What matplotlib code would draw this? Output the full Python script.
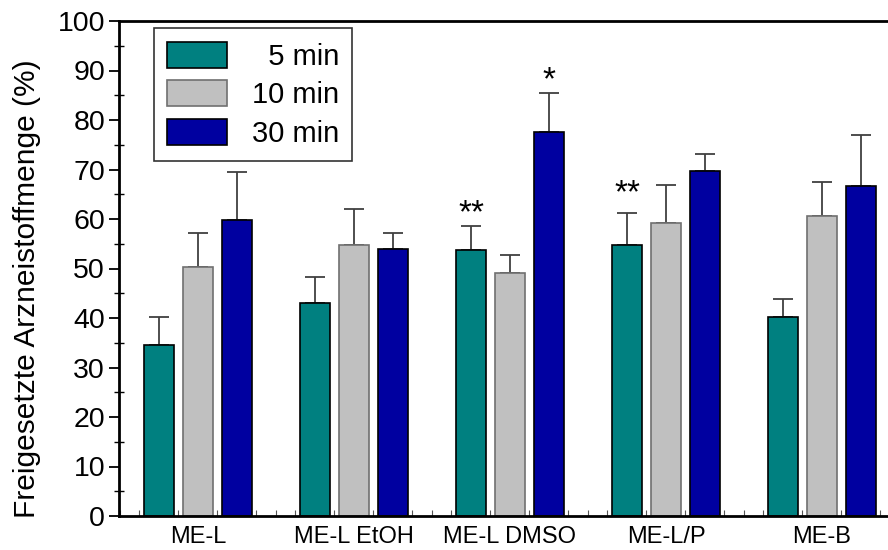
import numpy as np
import matplotlib
matplotlib.use('Agg')
import matplotlib.pyplot as plt
from matplotlib.ticker import MultipleLocator

plt.rcParams['font.family'] = ['Liberation Sans', 'DejaVu Sans']

# Daten
gruppen = ["ME-L", "ME-L EtOH", "ME-L DMSO", "ME-L/P", "ME-B"]
zeiten = ["  5 min", "10 min", "30 min"]
werte_5 = [34.5, 43.1, 53.7, 54.7, 40.3]
werte_10 = [50.3, 54.8, 49.1, 59.1, 60.7]
werte_30 = [59.7, 54.0, 77.6, 69.6, 66.7]
fehler_5 = [5.8, 5.2, 4.8, 6.5, 3.6]
fehler_10 = [6.9, 7.2, 3.7, 7.7, 6.7]
fehler_30 = [9.7, 3.2, 7.9, 3.6, 10.3]
# Signifikanz: (Gruppe, Serie, Text, Höhe)
sterne = [(2, 0, "**", 61.0), (2, 2, "*", 88.0), (3, 0, "**", 65.0)]

farben = ['#008080', '#C0C0C0', '#0000A0']
kanten = ['black', '#707070', 'black']

fig = plt.figure(figsize=(8.88, 5.5), dpi=100)
ax = fig.add_axes([119/888, 34/550, 781/888, 495/550])

x = np.arange(len(gruppen))
breite = 0.192
abstand = 0.248
serien = [(werte_5, fehler_5), (werte_10, fehler_10), (werte_30, fehler_30)]
for i, (w, f) in enumerate(serien):
    pos = x + (i - 1) * abstand
    ax.bar(pos, w, width=breite, color=farben[i], edgecolor=kanten[i],
           linewidth=1.2, label=zeiten[i], zorder=2)
    ax.errorbar(pos, w, yerr=[np.zeros(len(f)), f], fmt='none',
                ecolor='#404040', elinewidth=1.3, capsize=7, capthick=1.3, zorder=1)

for g, s, txt, h in sterne:
    ax.text(x[g] + (s - 1) * abstand, h, txt, ha='center', va='center', fontsize=24)

ax.set_xlim(-0.506, 4.5)
ax.set_ylim(0, 100)
ax.set_xticks(x)
ax.set_xticklabels(gruppen, fontsize=17)
ax.xaxis.set_minor_locator(MultipleLocator(0.125))
ax.tick_params(axis='x', which='major', length=0, pad=7)
ax.tick_params(axis='x', which='minor', direction='in', length=4, width=0.8, color='#555555')
ax.yaxis.set_major_locator(MultipleLocator(10))
ax.yaxis.set_minor_locator(MultipleLocator(5))
ax.tick_params(axis='y', which='major', direction='out', length=7, width=1.3, labelsize=20.5, pad=3)
ax.tick_params(axis='y', which='minor', direction='inout', length=7, width=1.0)
ax.set_ylabel("Freigesetzte Arzneistoffmenge (%)", fontsize=21.5)
ax.yaxis.set_label_coords(-0.10, 0.459)

for sp in ['left', 'bottom', 'top']:
    ax.spines[sp].set_linewidth(2)
ax.spines['right'].set_visible(False)

leg = ax.legend(loc='upper left', bbox_to_anchor=(0.045, 0.985), fontsize=21,
                frameon=True, fancybox=False, edgecolor='black',
                handlelength=2.05, handleheight=1.0, labelspacing=0.33,
                handletextpad=0.85, borderpad=0.45, borderaxespad=0)
leg.get_frame().set_linewidth(1.2)

plt.savefig("out.png", dpi=100)
